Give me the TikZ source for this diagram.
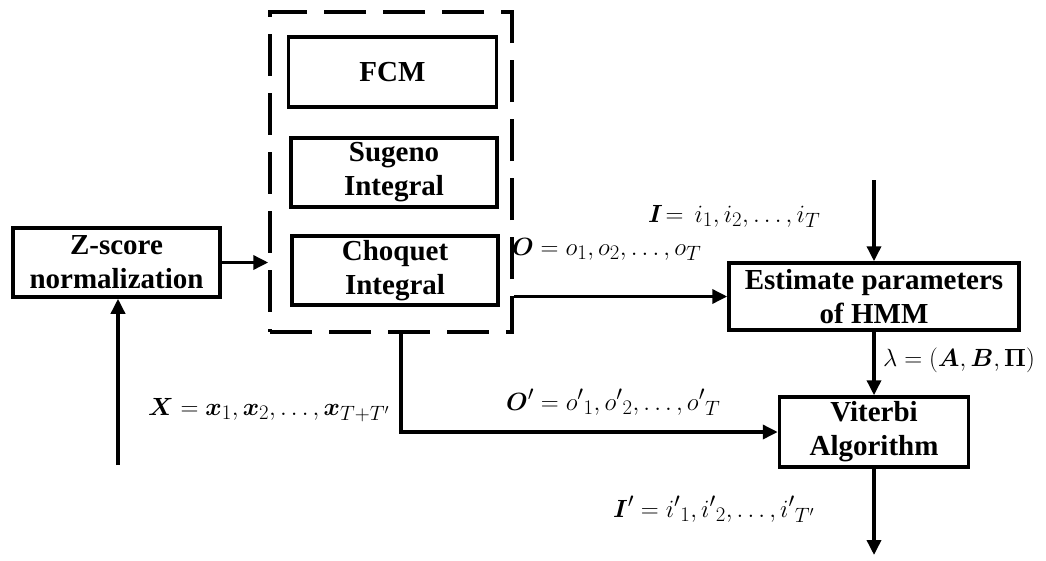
\documentclass[tikz,border=0pt]{standalone}
\usepackage{amsmath,bm}
\usepackage{fontspec}
\setmainfont{Liberation Serif}
\usetikzlibrary{arrows.meta}
\DeclareMathSizes{25.5}{25.5}{19.5}{15}
\tikzset{
  box/.style={draw, line width=3.5pt, rectangle, align=center, inner sep=0pt,
    font=\fontsize{29}{34}\selectfont\bfseries},
  dbox/.style={draw, line width=3.5pt, rectangle, dash pattern=on 42pt off 17pt, inner sep=0pt},
  arr/.style={line width=3.5pt, -{Triangle[length=15pt,width=14pt]}},
  lab/.style={inner sep=0pt, font=\fontsize{25.5}{30}\selectfont}
}
\begin{document}
\begin{tikzpicture}[x=1pt,y=-1pt]
\useasboundingbox (0,0) rectangle (1046,560);
% nodes
\node[box, minimum width=207pt, minimum height=69pt] (zs) at (116.5,262.5) {Z-score\\normalization};
\node[dbox, minimum width=242pt, minimum height=320pt] (fus) at (391,172) {};
\node[box, minimum width=208pt, minimum height=70pt] (fcm) at (392.5,72) {FCM};
\node[box, minimum width=206pt, minimum height=69pt] (sug) at (394,172.5) {Sugeno\\Integral};
\node[box, minimum width=206pt, minimum height=69pt] (cho) at (395,270.5) {Choquet\\Integral};
\node[box, minimum width=290pt, minimum height=67pt] (est) at (874,296.5) {Estimate parameters\\of HMM};
\node[box, minimum width=189pt, minimum height=70pt] (vit) at (874,432) {Viterbi\\Algorithm};
% free ends
\coordinate (xin) at (118,465);
\coordinate (iin) at (874,180);
\coordinate (out) at (874,555);
% connectors
\draw[arr] (xin) -- (xin |- zs.south);
\draw[arr] (zs.east) -- (zs.east -| fus.west);
\draw[arr] (fus.east |- est.west) -- (est.west);
\draw[arr] (iin) -- (est.north);
\draw[arr] (est.south) -- (vit.north);
\draw[arr] ([xshift=10pt]fus.south) |- (vit.west);
\draw[arr] (vit.south) -- (out);
% labels
\node[lab, anchor=base west] (li) at (648,222) {$\bm{I}\!=\, i_1, i_2, \dots, i_T$};
\node[lab, anchor=base west] (lo) at (512,255) {$\bm{O} = o_1, o_2, \dots, o_T$};
\node[lab, anchor=base west] (ll) at (883,366) {$\lambda = (\bm{A}, \bm{B}, \bm{\Pi})$};
\node[lab, anchor=base west] (lop) at (506,410) {$\bm{O}' = {o'}_1, {o'}_2, \dots, {o'}_T$};
\node[lab, anchor=base west] (lx) at (148,415) {$\bm{X} = \bm{x}_1, \bm{x}_2, \dots, \bm{x}_{T+T'}$};
\node[lab, anchor=base west] (lip) at (613,517) {$\bm{I}' = {i'}_1, {i'}_2, \dots, {i'}_{T'}$};
\end{tikzpicture}
\end{document}
